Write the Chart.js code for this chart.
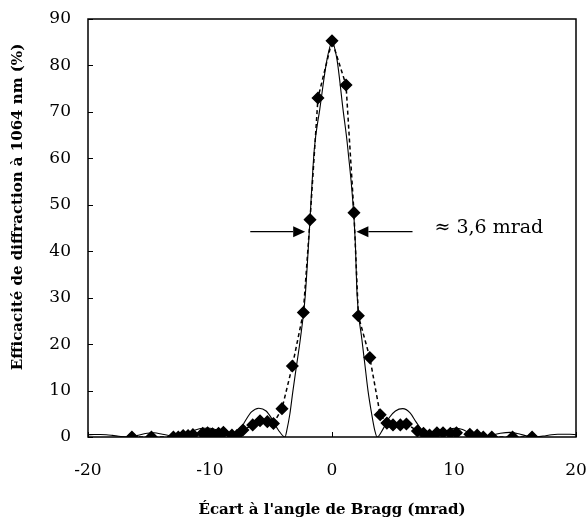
<!DOCTYPE html>
<html>
<head>
<meta charset="utf-8">
<script src="https://cdn.jsdelivr.net/npm/chart.js@4/dist/chart.umd.min.js"></script>
<style>
  html, body { margin: 0; padding: 0; background: #fff; }
  #wrap { width: 586px; height: 527px; }
</style>
</head>
<body>
<div id="wrap"><canvas id="chart" width="586" height="527"></canvas></div>
<script>
// theoretical curve (solid line), angle in mrad / efficiency in %
const theoryX = [-20, -19.5, -19, -18.5, -18, -17.3, -16.6, -16, -15.3, -14.6, -13.9, -13.1, -12.4,
  -11.8, -11.2, -10.6, -10, -9.4, -8.7, -8.1, -7.6, -7.1, -6.6, -6, -5.4, -4.9, -4.4, -3.85,
  -3.7, -3.45, -3.2, -2.9, -2.6, -2.2, -1.9, -1.45, -1, -0.4, 0,
  0.4, 0.9, 1.3, 1.9, 2.05, 2.45, 2.7, 2.95, 3.25, 3.5, 3.7,
  4.2, 4.7, 5.2, 5.8, 6.4, 6.9, 7.4, 7.9, 8.4, 9, 9.6, 10.1, 10.7, 11.3, 11.9, 12.4,
  13.1, 13.8, 14.6, 15.3, 16, 16.6, 17.3, 18, 18.5, 19, 19.5, 20];
const theoryY = [0.5, 0.55, 0.55, 0.5, 0.35, 0.1, 0, 0.3, 0.75, 0.9, 0.6, 0.2, 0,
  0.6, 1.5, 1.9, 1.9, 1.5, 0.6, 0, 1.2, 3.5, 5.4, 6.2, 5.6, 3.8, 1.5, 0,
  1.5, 5, 10, 15.5, 21, 30.2, 42.5, 62, 70.6, 81.4, 85,
  81.4, 70.6, 62, 42.5, 31, 21, 15.5, 10, 5, 1.5, 0,
  1.8, 4.2, 5.6, 6.1, 5.2, 3.2, 1.4, 0.3, 0, 0.7, 1.6, 1.9, 1.6, 0.8, 0.2, 0,
  0.4, 0.8, 1, 0.7, 0.2, 0, 0.2, 0.5, 0.6, 0.6, 0.6, 0.5];

// measured points (diamonds + dashed line)
const measX = [-16.4, -14.8, -13, -12.6, -12.2, -11.8, -11.4, -10.6, -10.2, -9.8, -9.3, -8.9, -8.2, -7.8,
  -7.3, -6.5, -5.9, -5.3, -4.8, -4.1, -3.25, -2.35, -1.8, -1.15, 0,
  1.15, 1.8, 2.16, 3.1, 3.95, 4.5, 5, 5.6, 6.1, 7, 7.5, 8, 8.6, 9.1, 9.7, 10.2,
  11.3, 11.9, 12.4, 13.1, 14.8, 16.4];
const measY = [0, 0, 0, 0, 0.3, 0.3, 0.5, 0.8, 0.9, 0.7, 0.8, 1, 0.4, 0.3,
  1.5, 2.6, 3.5, 3.3, 2.9, 6.1, 15.3, 26.8, 46.8, 73, 85.3,
  75.8, 48.3, 26.1, 17.1, 4.8, 3, 2.6, 2.6, 2.8, 1.3, 0.8, 0.4, 0.9, 0.9, 0.8, 0.9,
  0.6, 0.4, 0, 0, 0, 0];

const xTicks = [-20, -10, 0, 10, 20];
const yTicks = [0, 10, 20, 30, 40, 50, 60, 70, 80, 90];

// FWHM annotation
const fwhmY = 44.2;
const leftArrow = [-6.7, -2.2];
const rightArrow = [6.6, 2.0];
const fwhmText = '\u2248 3,6 mrad';
const fwhmTextX = 8.4;

const xTitle = "\u00c9cart \u00e0 l'angle de Bragg (mrad)";
const yTitle = 'Efficacit\u00e9 de diffraction \u00e0 1064 nm (%)';

const serif = "'DejaVu Serif', 'Liberation Serif', serif";

function toPts(xs, ys) {
  return xs.map((x, i) => ({ x: x, y: ys[i] }));
}

function arrow(ctx, x1, x2, y) {
  const dir = x2 > x1 ? 1 : -1;
  const head = 12;
  ctx.beginPath();
  ctx.moveTo(x1, y);
  ctx.lineTo(x2 - dir * head, y);
  ctx.stroke();
  ctx.beginPath();
  ctx.moveTo(x2, y);
  ctx.lineTo(x2 - dir * head, y - 5.5);
  ctx.lineTo(x2 - dir * head, y + 5.5);
  ctx.closePath();
  ctx.fill();
}

const decorPlugin = {
  id: 'decor',
  afterDraw(chart) {
    const { ctx, chartArea: a, scales } = chart;
    const xs = scales.x, ys = scales.y;
    ctx.save();
    ctx.strokeStyle = '#000';
    ctx.fillStyle = '#000';
    ctx.lineWidth = 1.5;
    ctx.strokeRect(a.left, a.top, a.right - a.left, a.bottom - a.top);

    // inward tick marks
    ctx.lineWidth = 1;
    ctx.beginPath();
    yTicks.forEach(v => {
      const py = Math.round(ys.getPixelForValue(v)) + 0.5;
      ctx.moveTo(a.left, py);
      ctx.lineTo(a.left + 5, py);
    });
    xTicks.forEach(v => {
      const px = Math.round(xs.getPixelForValue(v)) + 0.5;
      ctx.moveTo(px, a.bottom);
      ctx.lineTo(px, a.bottom - 5);
    });
    ctx.stroke();

    // FWHM arrows and label
    ctx.lineWidth = 1.3;
    const py = ys.getPixelForValue(fwhmY);
    arrow(ctx, xs.getPixelForValue(leftArrow[0]), xs.getPixelForValue(leftArrow[1]), py);
    arrow(ctx, xs.getPixelForValue(rightArrow[0]), xs.getPixelForValue(rightArrow[1]), py);
    ctx.font = '19px ' + serif;
    ctx.textAlign = 'left';
    ctx.textBaseline = 'alphabetic';
    ctx.fillText(fwhmText, xs.getPixelForValue(fwhmTextX), py + 1);

    // y axis title
    ctx.font = 'bold 15px ' + serif;
    ctx.textAlign = 'center';
    ctx.textBaseline = 'middle';
    ctx.translate(18, 207);
    ctx.rotate(-Math.PI / 2);
    ctx.fillText(yTitle, 0, 0);
    ctx.restore();
  }
};

new Chart(document.getElementById('chart'), {
  type: 'scatter',
  data: {
    datasets: [
      {
        label: 'theory',
        data: toPts(theoryX, theoryY),
        showLine: true,
        borderColor: '#000',
        borderWidth: 1.1,
        pointRadius: 0,
        cubicInterpolationMode: 'monotone'
      },
      {
        label: 'measured',
        data: toPts(measX, measY),
        showLine: true,
        borderColor: '#000',
        borderWidth: 1.5,
        borderDash: [4, 3],
        pointStyle: 'rectRot',
        pointRadius: 5.5,
        pointBackgroundColor: '#000',
        pointBorderColor: '#000'
      }
    ]
  },
  options: {
    responsive: false,
    animation: false,
    layout: { padding: { top: 19, right: 10, left: 0, bottom: 0 } },
    plugins: { legend: { display: false }, tooltip: { enabled: false } },
    scales: {
      x: {
        type: 'linear',
        min: -20, max: 20,
        afterBuildTicks: s => { s.ticks = xTicks.map(v => ({ value: v })); },
        afterFit: s => { s.height = 90; s.paddingLeft = 0; s.paddingRight = 0; },
        grid: { display: false, drawTicks: false },
        border: { display: false },
        ticks: { color: '#000', padding: 23, font: { family: serif, size: 17 } },
        title: {
          display: true, text: xTitle, color: '#000',
          font: { family: serif, size: 15, weight: 'bold' },
          padding: { top: 0, bottom: 8 }
        }
      },
      y: {
        type: 'linear',
        min: 0, max: 90,
        afterBuildTicks: s => { s.ticks = yTicks.map(v => ({ value: v })); },
        afterFit: s => { s.width = 88; s.paddingTop = 0; s.paddingBottom = 0; },
        grid: { display: false, drawTicks: false },
        border: { display: false },
        ticks: { color: '#000', padding: 17, font: { family: serif, size: 17 } }
      }
    }
  },
  plugins: [decorPlugin]
});
</script>
</body>
</html>
